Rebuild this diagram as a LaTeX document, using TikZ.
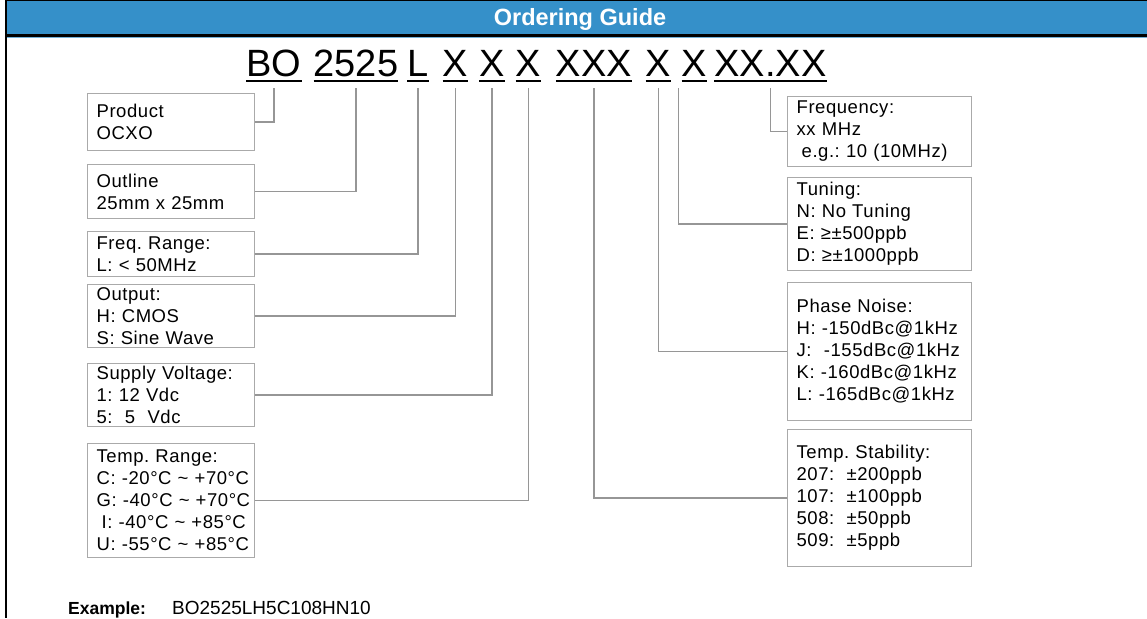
\documentclass[tikz,border=0pt]{standalone}
\usepackage{fontspec}
\setmainfont{Liberation Sans}
\newfontfamily\boxfont[LetterSpace=3]{Liberation Sans}
\usetikzlibrary{positioning}
\definecolor{headblue}{RGB}{53,144,201}
\definecolor{boxline}{RGB}{170,170,170}
\definecolor{linkline}{RGB}{150,150,150}
\frenchspacing

\begin{document}
\begin{tikzpicture}[
  x=1pt, y=-1pt,
  box/.style={
    rectangle, draw=boxline, line width=1.3pt,
    text width=149pt, inner xsep=9pt, inner ysep=2pt,
    align=left, font=\boxfont\fontsize{18.5}{22}\selectfont
  },
  rbox/.style={box, text width=166pt},
  seg/.style={inner sep=0pt, text depth=4pt, anchor=base, font=\fontsize{38}{40}\selectfont},
  uline/.style={line width=1.8pt, draw=black},
  link/.style={draw=linkline, line width=1.2pt}
]
\useasboundingbox (0,0) rectangle (1147,618);

% ── Frame and header ──
\fill[headblue] (6,0) rectangle (1150,34.5);
\draw[line width=1pt] (6,0.5) -- (1150,0.5);
\draw[line width=2.5pt] (6,35.5) -- (1150,35.5);
\draw[headblue!70, line width=1pt] (7,37.5) -- (1150,37.5);
\draw[line width=2.2pt] (6,0) -- (6,618);
\node[anchor=base, text=white, font=\bfseries\fontsize{23.5}{26}\selectfont] (title) at (580,26) {Ordering Guide};

% ── Part number ──
\node[seg] (seg_bo) at (274,77) {BO};
\node[seg] (seg_size) at (356,77) {2525};
\node[seg] (seg_range) at (418,77) {L};
\node[seg] (seg_out) at (455.5,77) {X};
\node[seg] (seg_volt) at (492,77) {X};
\node[seg] (seg_temp) at (528.5,77) {X};
\node[seg] (seg_stab) at (594,77) {XXX};
\node[seg] (seg_noise) at (658.5,77) {X};
\node[seg] (seg_tune) at (694.5,77) {X};
\node[seg] (seg_freq) at (770.5,77) {XX.XX};

\foreach \s in {seg_bo, seg_size, seg_range, seg_out, seg_volt, seg_temp, seg_stab, seg_noise, seg_tune, seg_freq}
  \draw[uline] (\s.south west) -- (\s.south east);

% ── Left column ──
\node[box, anchor=north west, minimum height=56.7pt] (product) at (87,93) {Product\\OCXO};
\node[box, below=13pt of product, minimum height=53.7pt] (outline) {Outline\\25mm x 25mm};
\node[box, below=12pt of outline, minimum height=44.7pt] (freq_range) {Freq. Range:\\L: < 50MHz};
\node[box, below=7pt of freq_range, minimum height=62.7pt] (output) {Output:\\H: CMOS\\S: Sine Wave};
\node[box, below=15pt of output, minimum height=62.7pt] (supply) {Supply Voltage:\\1: 12 Vdc\\5:\ \ 5\ \ Vdc};
\node[box, below=16pt of supply, minimum height=113.7pt] (temp_range) {Temp. Range:\\
  \mbox{C: -20°C \textasciitilde{} +70°C}\\
  \mbox{G: -40°C \textasciitilde{} +70°C}\\
  \mbox{\hspace*{5pt}I: -40°C \textasciitilde{} +85°C}\\
  \mbox{U: -55°C \textasciitilde{} +85°C}};

% ── Right column ──
\node[rbox, anchor=north west, minimum height=69.7pt] (frequency) at (787,96) {Frequency:\\xx MHz\\\hspace*{5pt}e.g.: 10 (10MHz)};
\node[rbox, below=10pt of frequency, minimum height=92.7pt] (tuning) {Tuning:\\N: No Tuning\\E: ≥±500ppb\\D: ≥±1000ppb};
\node[rbox, below=11pt of tuning, minimum height=137.7pt] (phase_noise) {Phase Noise:\\
  H: -150dBc@1kHz\\
  J:\ \ -155dBc@1kHz\\
  K: -160dBc@1kHz\\
  L: -165dBc@1kHz};
\node[rbox, below=8pt of phase_noise, minimum height=136.7pt] (temp_stab) {Temp. Stability:\\
  207:\ \ ±200ppb\\
  107:\ \ ±100ppb\\
  508:\ \ ±50ppb\\
  509:\ \ ±5ppb};

% ── Connectors: left ──
\draw[link] (product.east) -| ([yshift=-7pt]seg_bo.south);
\draw[link] (outline.east) -| ([yshift=-7pt]seg_size.south);
\draw[link] (freq_range.east) -| ([yshift=-7pt]seg_range.south);
\draw[link] (output.east) -| ([yshift=-7pt]seg_out.south);
\draw[link] (supply.east) -| ([yshift=-7pt]seg_volt.south);
\draw[link] (temp_range.east) -| ([yshift=-7pt]seg_temp.south);

% ── Connectors: right ──
\draw[link] ([yshift=-7pt]seg_freq.south) |- (frequency.west);
\draw[link] (tuning.west) -| ([xshift=-3pt,yshift=-7pt]seg_tune.south west);
\draw[link] (phase_noise.west) -| ([yshift=-7pt]seg_noise.south);
\draw[link] (temp_stab.west) -| ([yshift=-7pt]seg_stab.south);

% ── Example ──
\node[anchor=base west, inner sep=0pt, font=\bfseries\fontsize{17.5}{20}\selectfont] (ex_label) at (68,614) {Example:};
\node[anchor=base west, inner sep=0pt, font=\fontsize{19}{22}\selectfont] (ex_code) at (172,614) {BO2525LH5C108HN10};

\end{tikzpicture}
\end{document}
